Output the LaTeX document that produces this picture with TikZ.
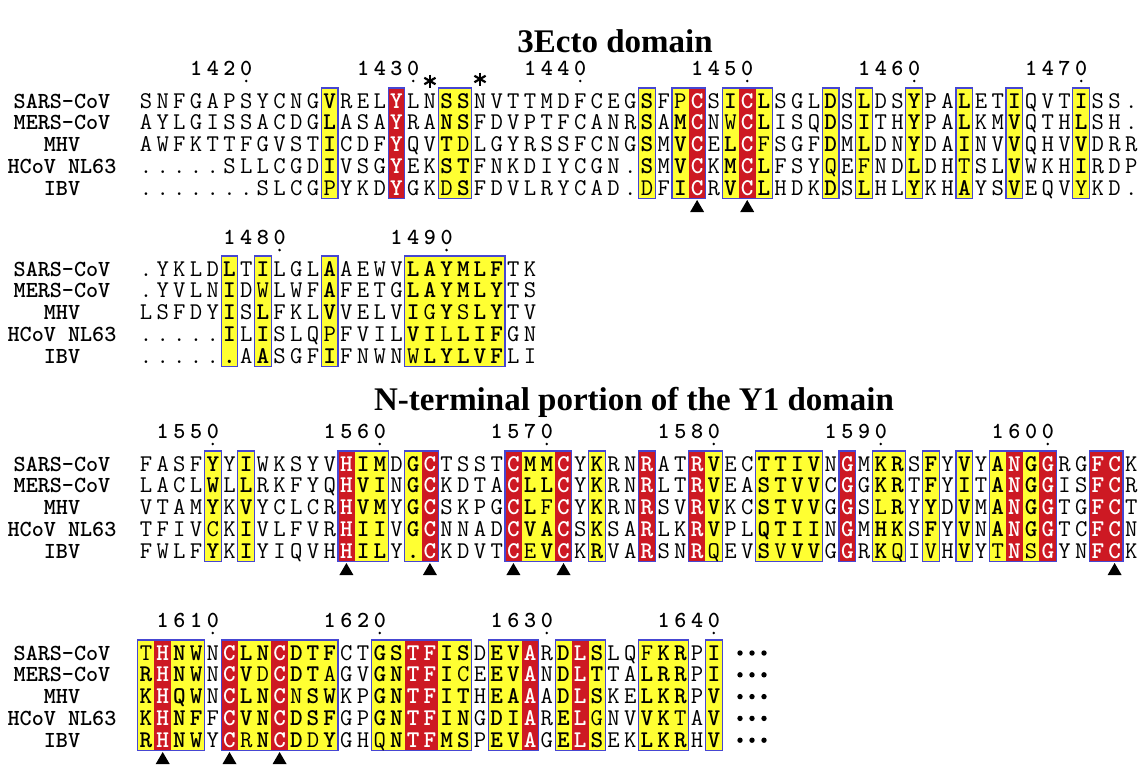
\documentclass[tikz,border=0pt]{standalone}
\usepackage{fontspec}
\setmainfont{Liberation Serif}
\definecolor{ay}{RGB}{255,255,50}
\definecolor{ar}{RGB}{205,25,35}
\definecolor{ab}{RGB}{70,70,210}

\newcommand\ResNode[5]{\node[#2] (#1) at ({146+(#3-1)*16.7},#4) {#5};}
\newcommand\ColFill[4]{\fill[#2] ({146+(#1-1.5)*16.7},#3) rectangle ({146+(#1-0.5)*16.7},#4);}

\ExplSyntaxOn
\tl_new:N \l__al_ch_tl
\tl_new:N \l__al_up_tl
\tl_new:N \l__al_ty_tl
\tl_new:N \l__al_st_tl
\str_new:N \l__al_seq_str
\str_new:N \l__al_typ_str
\NewDocumentCommand \AlRow { m m m m }
 {
  \str_set:Nn \l__al_typ_str {#3}
  \str_remove_all:Nn \l__al_typ_str { ~ }
  \str_set:Nn \l__al_seq_str {#4}
  \str_remove_all:Nn \l__al_seq_str { ~ }
  \int_step_inline:nn { \str_count:N \l__al_seq_str }
   {
    \tl_set:Ne \l__al_ch_tl { \str_item:Nn \l__al_seq_str {##1} }
    \tl_set:Ne \l__al_up_tl { \str_uppercase:f { \l__al_ch_tl } }
    \tl_set:Ne \l__al_ty_tl { \str_item:Nn \l__al_typ_str {##1} }
    \str_if_eq:VnTF \l__al_ty_tl { r }
     { \tl_set:Nn \l__al_st_tl { resr } }
     {
      \str_if_eq:VnTF \l__al_ty_tl { y }
       {
        \str_if_eq:VVTF \l__al_ch_tl \l__al_up_tl
         { \tl_set:Nn \l__al_st_tl { resb } }
         { \tl_set:Nn \l__al_st_tl { resn } }
       }
       { \tl_set:Nn \l__al_st_tl { resn } }
     }
    \use:e { \exp_not:N \ResNode {#1-##1} { \l__al_st_tl } {##1} {#2} { \l__al_up_tl } }
   }
 }
\NewDocumentCommand \AlCols { m m m }
 {
  \str_set:Nn \l__al_typ_str {#1}
  \str_remove_all:Nn \l__al_typ_str { ~ }
  \int_step_inline:nn { \str_count:N \l__al_typ_str }
   {
    \tl_set:Ne \l__al_ty_tl { \str_item:Nn \l__al_typ_str {##1} }
    \str_if_eq:VnT \l__al_ty_tl { y } { \ColFill {##1} {ay} {#2} {#3} }
    \str_if_eq:VnT \l__al_ty_tl { r } { \ColFill {##1} {ar} {#2} {#3} }
   }
 }
\ExplSyntaxOff

\newcommand\AlLine[6]{\pgfmathsetmacro\ya{#2+#3*21.8+7}\AlRow{#1}{\ya}{#4}{#5}\node[lab] (#1-lab) at (62,\ya) {#6};}
\newcommand\AlBlock[9]{%
  \pgfmathsetmacro\yt{#2-13}%
  \pgfmathsetmacro\yb{#2+4*21.8+10}%
  \AlCols{#3}{\yt}{\yb}%
  \foreach \a/\b in {#4}{\draw[boxln] ({146+(\a-1.5)*16.7},\yt) rectangle ({146+(\b-0.5)*16.7},\yb);}%
  \AlLine{#1a}{#2}{0}{#3}{#5}{SARS-CoV}%
  \AlLine{#1b}{#2}{1}{#3}{#6}{MERS-CoV}%
  \AlLine{#1c}{#2}{2}{#3}{#7}{MHV}%
  \AlLine{#1d}{#2}{3}{#3}{#8}{HCoV NL63}%
  \AlLine{#1e}{#2}{4}{#3}{#9}{IBV}%
}
\newcommand\dg[1]{\makebox[8.35pt]{#1}}
\newcommand\SpreadNum[4]{\dg{#1}\dg{#2}\dg{#3}\dg{#4}}
\newcommand\AlNum[3]{%
  \node[num] (n#3) at ({146+(#1-2.5)*16.7},#2+5) {\SpreadNum#3};
  \fill ({146+(#1-1)*16.7},#2+11) circle (1.4);}
\newcommand\Tri[2]{\fill ({146+(#1-1)*16.7},#2) -- ++(7,12) -- ++(-14,0) -- cycle;}
\newcommand\Star[2]{%
  \draw[starln] ({146+(#1-1)*16.7},#2-6.5) -- ++(0,13);
  \draw[starln] ({146+(#1-1)*16.7-5.6},#2-3.25) -- ++(11.2,6.5);
  \draw[starln] ({146+(#1-1)*16.7-5.6},#2+3.25) -- ++(11.2,-6.5);}

\begin{document}
\begin{tikzpicture}[x=0.5pt,y=-0.5pt,
  res/.style={anchor=base,inner sep=0pt,font=\fontsize{12}{14}\ttfamily},
  resn/.style={res},
  resb/.style={res,font=\fontsize{12}{14}\ttfamily\bfseries},
  resr/.style={resb,text=white},
  lab/.style={anchor=base,inner sep=0pt,font=\fontsize{11.5}{14}\ttfamily\bfseries},
  num/.style={anchor=base,inner sep=0pt,font=\fontsize{11.5}{12}\ttfamily\bfseries},
  boxln/.style={draw=ab,line width=0.6pt},
  starln/.style={line width=1.1pt},
  ttl/.style={inner sep=0pt,font=\fontsize{16.5}{20}\selectfont\bfseries}]
\useasboundingbox (0,0) rectangle (1143,767);
\fill[white] (0,0) rectangle (1143,767);

% ---- titles
\node[ttl] (t1) at (615,41) {3Ecto domain};
\node[ttl] (t2) at (634,402) {N-terminal portion of the Y1 domain};

% ---- block 1
\AlNum{7}{70}{1420}\AlNum{17}{70}{1430}\AlNum{27}{70}{1440}
\AlNum{37}{70}{1450}\AlNum{47}{70}{1460}\AlNum{57}{70}{1470}
\Star{18}{81}\Star{21}{79}
\AlBlock{b1}{101}
 {nnnnnnnnnn nynnnrnnyy nnnnnnnnnn ynyrnyrynn nynynnynny nnynnnynnn}
 {12/12,16/16,19/20,31/31,33/34,36/38,42/42,44/44,47/47,50/50,53/53,57/57}
 {SNFGAPSYCN GVRELYLNSS NVTTMDFCEG SFpCSICLSG LDSLDSYPAL ETIQVTISS.}
 {AYLGISSACD GLASAYRANS FDVPTFCANR SAMCNwCLIS QDSITHYPAL KMVQTHLSH.}
 {AWFKTTFGVS TICDFYQVTd LGYRSSFCNG SMVCELCfSG FDMLDNYDAI NVVQHVVDRR}
 {.....SLLCG DIVSGYEKST FNKDIYCGN. SMVCKMCLFS YqEfNDLDHt SLVWKHIRDP}
 {.......SLC GpYKDYGKdS FDVLRYCAD. dFICRVCLHD KDSLHLYKHA YSVEQVyKD.}
\Tri{34}{200}\Tri{37}{200}

% ---- block 2
\AlNum{9}{239}{1480}\AlNum{19}{239}{1490}
\AlBlock{b2}{269}
 {nnnnnynynn nynnnnyyyy yynn}
 {6/6,8/8,12/12,17/22}
 {.YKLDLTILG LAAEWVLAYM LFTK}
 {.YVLNIDwLW FAFETGLAYM LYTS}
 {LSFDYISLFK LVVELVIgYs LYTV}
 {.....ILISL QpFVILVIlL IFGN}
 {......AASG FIFNWNwLYL VFLI}

% ---- block 3
\AlNum{5}{433}{1550}\AlNum{15}{433}{1560}\AlNum{25}{433}{1570}
\AlNum{35}{433}{1580}\AlNum{45}{433}{1590}\AlNum{55}{433}{1600}
\AlBlock{b3}{464}
 {nnnnynynnn nnryynyrnn nnryyrnynn rnnrynnyyy ynrnyynyny nyryrnnrrn}
 {5/5,7/7,13/15,17/18,23/26,28/28,31/31,34/35,38/41,43/43,45/46,48/48,50/50,52/55,58/59}
 {FASFYYIWKS YVHIMDGCTS STCMMCYKRN RATRVECTTI VNGMKRSFYV YANGGRGFCK}
 {LACLWLLRKF YQHVINGCKD TACLLCYKRN RLTRVEASTV VCGGKRTFYI TANGGISFCR}
 {VTAMYKVYCL CRHVMYGCSK PGCLfCYKRN RSVRVKCSTV VGGSlRYYDV MANGGTGFCT}
 {TFIVcKIVLF VRHIIVGCNN ADCVACSKSA RLKRVPLQTI INGMHKSFYV NANGGTCFCN}
 {FWLFYKIYIQ VHHILY.CKD VTCeVCKRVA RSNRqEVSvV VGGRKqIvHV YtNsGYNFCK}
\Tri{13}{563}\Tri{18}{563}\Tri{23}{563}\Tri{26}{563}\Tri{59}{563}

% ---- block 4
\AlNum{5}{622}{1610}\AlNum{15}{622}{1620}\AlNum{25}{622}{1630}\AlNum{35}{622}{1640}
\AlBlock{b4}{653}
 {yryynryyry yynnyyrryy nyyrnyrynn yyyny}
 {1/4,6/12,15/20,22/24,26/28,31/33,35/35}
 {tHNWNCLNCD TFCTGSTFIS DEVARDLSLQ fKRPI}
 {RHNWNCVdCD TaGVGNTFIc EEVANDLTTA LRRPI}
 {KHQWNCLNCn SWKPGNTFIT HEAAADLSKE LKRPV}
 {KHNFFCVNCD SFGPGNTFIN GDIARELgNV VKtAV}
 {RHNWYCrNCD dYGHqNTFMS PEVAGELSEK LKRHV}
\foreach \r in {0,...,4}{
  \fill (740,653+\r*21.8) circle (2.7);
  \fill (752,653+\r*21.8) circle (2.7);
  \fill (764,653+\r*21.8) circle (2.7);}
\Tri{2}{752}\Tri{6}{752}\Tri{9}{752}
\end{tikzpicture}
\end{document}
